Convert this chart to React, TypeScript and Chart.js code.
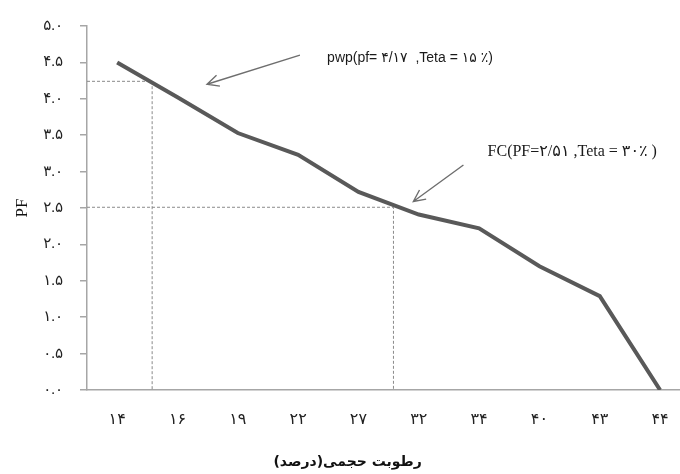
import React, { useEffect, useRef } from "react";
import { Chart, registerables } from "chart.js";

Chart.register(...registerables);

// ---- data ----
const categories = ["۱۴", "۱۶", "۱۹", "۲۲", "۲۷", "۳۲", "۳۴", "۴۰", "۴۳", "۴۴"];
const pfValues = [4.5, 4.02, 3.53, 3.23, 2.72, 2.41, 2.22, 1.7, 1.29, 0];
const yTickLabels = ["۰.۰", "۰.۵", "۱.۰", "۱.۵", "۲.۰", "۲.۵", "۳.۰", "۳.۵", "۴.۰", "۴.۵", "۵.۰"];

const xTitle = "رطوبت حجمی(درصد)";
const yTitle = "PF";

// guide lines (data units: x = category index, y = PF)
const pwpGuide = [0.58, 4.24];
const fcGuide = [4.58, 2.51];

// annotation arrows [fromX, fromY, toX, toY] in data units
const pwpArrow = [3.03, 4.6, 1.49, 4.2];
const fcArrow = [5.74, 3.09, 4.91, 2.59];

// annotation labels [x, y] in data units
const pwpLabel = "pwp(pf= ۴/۱۷  ,Teta = ۱۵ ٪)";
const pwpLabelPos = [3.48, 4.56];
const fcLabel = "FC(PF=۲/۵۱ ,Teta = ۳۰٪ )";
const fcLabelPos = [6.14, 3.27];
// x-axis title anchor (category index units)
const xTitleCenter = 3.82;

const SERIF = "'Liberation Serif', 'Times New Roman', 'DejaVu Serif', 'DejaVu Sans', serif";
const SANS = "'Liberation Sans', Arial, 'DejaVu Sans', sans-serif";

function drawArrow(ctx: CanvasRenderingContext2D, x1: number, y1: number, x2: number, y2: number) {
  const ang = Math.atan2(y2 - y1, x2 - x1);
  const head = 13;
  const spread = 0.45;
  ctx.beginPath();
  ctx.moveTo(x1, y1);
  ctx.lineTo(x2, y2);
  ctx.moveTo(x2 - head * Math.cos(ang - spread), y2 - head * Math.sin(ang - spread));
  ctx.lineTo(x2, y2);
  ctx.lineTo(x2 - head * Math.cos(ang + spread), y2 - head * Math.sin(ang + spread));
  ctx.stroke();
}

const annotationPlugin = {
  id: "pfAnnotations",
  beforeDatasetsDraw(chart: any) {
    const { ctx, scales } = chart;
    const xs = scales.x;
    const ys = scales.y;
    const x0 = chart.chartArea.left;
    const yb = chart.chartArea.bottom;
    ctx.save();
    ctx.strokeStyle = "#8a8a8a";
    ctx.lineWidth = 1;
    ctx.setLineDash([3, 2]);
    for (const g of [pwpGuide, fcGuide]) {
      const px = xs.getPixelForValue(g[0]);
      const py = ys.getPixelForValue(g[1]);
      ctx.beginPath();
      ctx.moveTo(x0, py);
      ctx.lineTo(px, py);
      ctx.lineTo(px, yb);
      ctx.stroke();
    }
    ctx.restore();
  },
  afterDraw(chart: any) {
    const { ctx, scales } = chart;
    const xs = scales.x;
    const ys = scales.y;
    ctx.save();
    ctx.strokeStyle = "#6e6e6e";
    ctx.lineWidth = 1.4;
    for (const a of [pwpArrow, fcArrow]) {
      drawArrow(
        ctx,
        xs.getPixelForValue(a[0]),
        ys.getPixelForValue(a[1]),
        xs.getPixelForValue(a[2]),
        ys.getPixelForValue(a[3])
      );
    }
    ctx.fillStyle = "#1a1a1a";
    ctx.textBaseline = "middle";
    ctx.textAlign = "left";
    ctx.direction = "ltr";
    ctx.font = `14px ${SANS}`;
    ctx.fillText(pwpLabel, xs.getPixelForValue(pwpLabelPos[0]), ys.getPixelForValue(pwpLabelPos[1]));
    ctx.font = `16px ${SERIF}`;
    ctx.fillText(fcLabel, xs.getPixelForValue(fcLabelPos[0]), ys.getPixelForValue(fcLabelPos[1]));

    // x-axis title
    ctx.fillStyle = "#111";
    ctx.textAlign = "center";
    ctx.direction = "rtl";
    ctx.font = `bold 14px 'DejaVu Sans', ${SERIF}`;
    ctx.fillText(xTitle, xs.getPixelForValue(xTitleCenter), xs.bottom - 12);
    ctx.restore();
  },
};

export default function App() {
  const canvasRef = useRef<HTMLCanvasElement | null>(null);

  useEffect(() => {
    if (!canvasRef.current) return;
    const chart = new Chart(canvasRef.current, {
      type: "line",
      data: {
        datasets: [
          {
            label: "PF",
            data: pfValues.map((v, i) => ({ x: i, y: v })),
            borderColor: "#595959",
            borderWidth: 4,
            pointRadius: 0,
            tension: 0,
            fill: false,
          },
        ],
      },
      options: {
        animation: false,
        responsive: true,
        maintainAspectRatio: false,
        layout: { padding: { top: 23, right: 0, bottom: 0, left: 0 } },
        plugins: { legend: { display: false }, tooltip: { enabled: false } },
        scales: {
          x: {
            type: "linear",
            min: -0.5,
            max: 9.33,
            afterBuildTicks: (s: any) => {
              s.ticks = categories.map((_, i) => ({ value: i }));
            },
            afterFit: (s: any) => {
              s.height = 84;
              s.paddingLeft = 0;
              s.paddingRight = 0;
            },
            ticks: {
              autoSkip: false,
              maxRotation: 0,
              padding: 20,
              color: "#222",
              font: { family: SERIF, size: 16 },
              callback: (v: any) => categories[Math.round(Number(v))] ?? "",
            },
            grid: { display: false, drawTicks: false },
            border: { display: true, color: "#a6a6a6", width: 1.5 },
            title: { display: false },
          },
          y: {
            min: 0,
            max: 5,
            afterFit: (s: any) => {
              s.width = 87;
            },
            ticks: {
              stepSize: 0.5,
              padding: 17,
              color: "#222",
              font: { family: SERIF, size: 15 },
              callback: (v: any) => yTickLabels[Math.round(Number(v) * 2)] ?? "",
            },
            grid: {
              drawOnChartArea: false,
              drawTicks: true,
              tickLength: 7,
              color: "#a6a6a6",
              lineWidth: 1.5,
            },
            border: { display: true, color: "#a6a6a6", width: 1.5 },
            title: {
              display: true,
              text: yTitle,
              color: "#111",
              font: { family: SERIF, size: 17 },
              padding: { top: 12, bottom: 0 },
            },
          },
        },
      },
      plugins: [annotationPlugin],
    });
    return () => chart.destroy();
  }, []);

  return (
    <div style={{ position: "fixed", left: 0, top: 0, width: 680, height: 474, background: "#fff" }}>
      <canvas ref={canvasRef} />
    </div>
  );
}
